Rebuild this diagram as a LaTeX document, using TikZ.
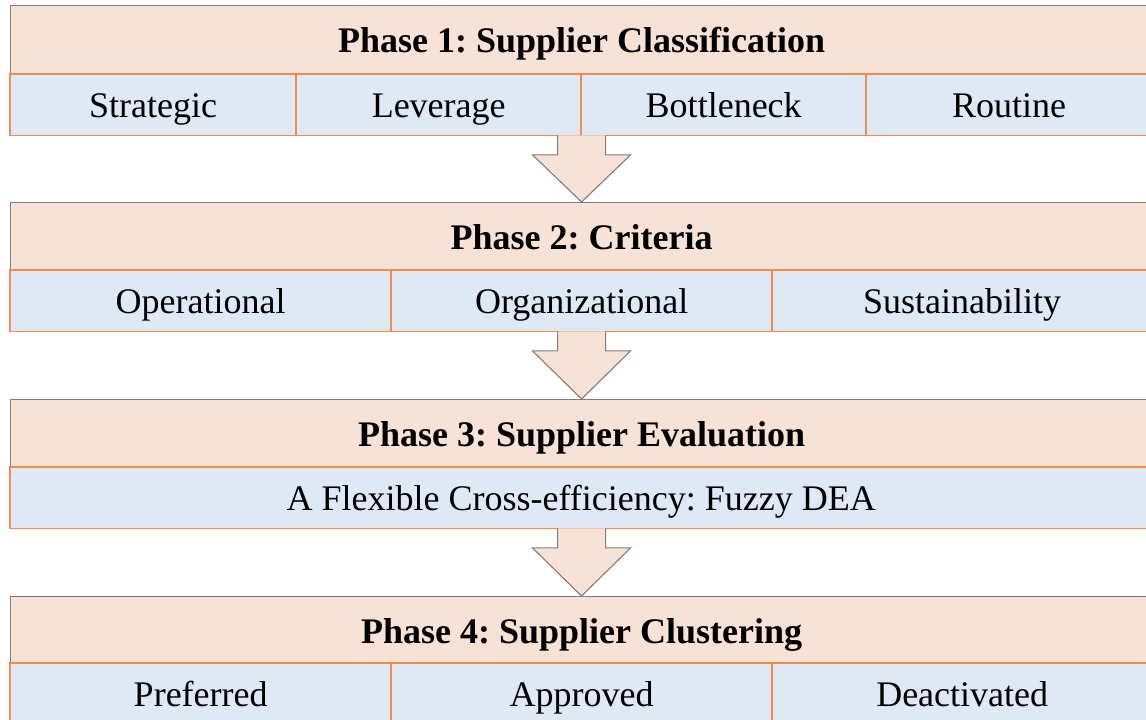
\documentclass[tikz,border=0pt]{standalone}
\usepackage{fontspec}
\setmainfont{Liberation Serif}
\usetikzlibrary{calc}
\definecolor{hdrfill}{RGB}{248,225,213}
\definecolor{rowfill}{RGB}{222,233,245}
\definecolor{hdrline}{RGB}{125,125,125}
\definecolor{rowline}{RGB}{240,140,76}
\tikzset{
  hdr/.style={draw=hdrline, fill=hdrfill, line width=1.1pt, minimum height=68pt,
    minimum width=1142pt, anchor=north west, inner sep=0pt,
    text height=26pt, text depth=1pt, font=\fontsize{36}{43}\selectfont\bfseries\frenchspacing},
  cell/.style={fill=rowfill, minimum height=61pt,
    anchor=north west, inner sep=0pt, text height=26pt, text depth=1pt,
    font=\fontsize{36}{43}\selectfont\frenchspacing},
  cellborder/.style={draw=rowline, line width=1.8pt},
  flowarrow/.style={draw=hdrline, fill=hdrfill, line width=1.1pt, line join=miter}
}
\begin{document}
\begin{tikzpicture}[x=1pt,y=-1pt]
\useasboundingbox (0,0) rectangle (1146,720);
\clip (0,0) rectangle (1146,720);
% Phase 1
\node[hdr] (p1) at (10,5) {Phase 1: Supplier Classification};
\node[cell, minimum width=286pt] (c11) at (10,74) {Strategic};
\node[cell, minimum width=285pt] (c12) at (296,74) {Leverage};
\node[cell, minimum width=285pt] (c13) at (581,74) {Bottleneck};
\node[cell, minimum width=286pt] (c14) at (866,74) {Routine};
% Phase 2
\node[hdr] (p2) at (10,202) {Phase 2: Criteria};
\node[cell, minimum width=381pt] (c21) at (10,270) {Operational};
\node[cell, minimum width=381pt] (c22) at (391,270) {Organizational};
\node[cell, minimum width=380pt] (c23) at (772,270) {Sustainability};
% Phase 3
\node[hdr] (p3) at (10,399) {Phase 3: Supplier Evaluation};
\node[cell, minimum width=1142pt] (c31) at (10,467) {A Flexible Cross-efficiency: Fuzzy DEA};
% Phase 4
\node[hdr] (p4) at (10,596) {Phase 4: Supplier Clustering};
\node[cell, minimum width=381pt] (c41) at (10,663) {Preferred};
\node[cell, minimum width=381pt] (c42) at (391,663) {Approved};
\node[cell, minimum width=380pt] (c43) at (772,663) {Deactivated};
% Cell borders
\foreach \cellname in {c11,c12,c13,c14,c21,c22,c23,c31,c41,c42,c43}{
  \draw[cellborder] (\cellname.north west) rectangle (\cellname.south east);
}
% Arrows
\foreach \rowname/\hdrname in {c12/p2, c22/p3, c31/p4}{
  \path[flowarrow] let \p1=(\rowname.south), \p2=(\hdrname.north) in
    (\x2-24pt,\y1) -- (\x2-24pt,\y1-19.5pt) -- (\x2-49pt,\y1-19.5pt) -- (\x2,\y2)
    -- (\x2+49pt,\y1-19.5pt) -- (\x2+24pt,\y1-19.5pt) -- (\x2+24pt,\y1);
}
\end{tikzpicture}
\end{document}
